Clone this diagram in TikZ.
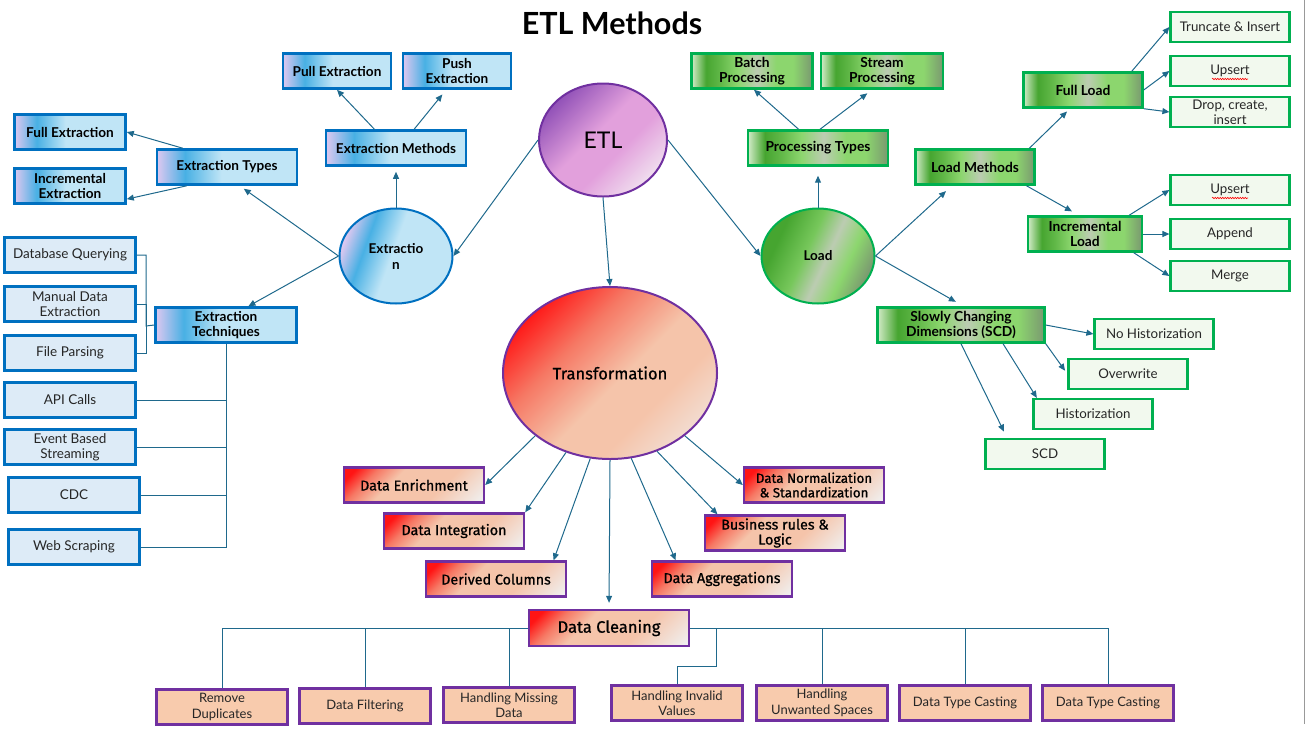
\documentclass[tikz,border=0pt]{standalone}
\usepackage{fontspec}
\setmainfont{Lato}
\newfontfamily\redfont{Fira Sans}[FakeBold=0.8]
\usetikzlibrary{shapes.geometric,arrows.meta,decorations.pathmorphing}

\definecolor{lineC}{RGB}{31,105,140}
\definecolor{extBorder}{RGB}{0,112,192}
\definecolor{extLav}{RGB}{222,200,240}
\definecolor{extBlue}{RGB}{72,176,228}
\definecolor{extLight}{RGB}{192,229,246}
\definecolor{leafBlue}{RGB}{221,235,247}
\definecolor{ldBorder}{RGB}{0,176,80}
\definecolor{gLight}{RGB}{210,235,200}
\definecolor{gDark}{RGB}{70,165,48}
\definecolor{gMid}{RGB}{140,214,110}
\definecolor{gGray}{RGB}{188,204,178}
\definecolor{gEnd}{RGB}{122,152,112}
\definecolor{leafGreen}{RGB}{242,249,238}
\definecolor{trBorder}{RGB}{112,48,160}
\definecolor{trRed}{RGB}{255,20,20}
\definecolor{trSalmon}{RGB}{246,120,100}
\definecolor{trPeach}{RGB}{245,196,170}
\definecolor{trGray}{RGB}{240,240,240}
\definecolor{leafPeach}{RGB}{248,203,173}
\definecolor{etlDark}{RGB}{142,78,182}
\definecolor{etlPink}{RGB}{226,160,220}
\definecolor{etlPale}{RGB}{244,240,244}

\pgfdeclarehorizontalshading{extband}{100bp}{color(0bp)=(extLav); color(25bp)=(extLav); color(35bp)=(extBlue); color(48bp)=(extLight); color(100bp)=(extLight)}
\pgfdeclarehorizontalshading{ldband}{100bp}{color(0bp)=(gLight); color(25bp)=(gLight); color(31bp)=(gDark); color(37bp)=(gDark!60!gMid); color(44bp)=(gMid); color(52bp)=(gGray); color(60bp)=(gMid); color(67bp)=(gMid); color(75bp)=(gEnd); color(100bp)=(gEnd)}
\pgfdeclarehorizontalshading{loadband}{100bp}{color(0bp)=(gDark); color(30bp)=(gDark); color(44bp)=(gMid!70!gDark); color(54bp)=(gGray); color(64bp)=(gMid); color(75bp)=(gEnd); color(100bp)=(gEnd)}
\pgfdeclareverticalshading{redfade}{100bp}{color(0bp)=(trGray); color(16bp)=(trGray); color(38bp)=(trPeach); color(60bp)=(trPeach); color(71bp)=(trSalmon); color(80bp)=(trRed); color(100bp)=(trRed)}
\pgfdeclareverticalshading{redovalfade}{100bp}{color(0bp)=(trGray); color(15bp)=(trGray); color(36bp)=(trPeach); color(47bp)=(trPeach); color(62bp)=(trSalmon); color(76bp)=(trRed); color(100bp)=(trRed)}
\pgfdeclareverticalshading{etlfade}{100bp}{color(0bp)=(etlPale); color(20bp)=(etlPale); color(42bp)=(etlPink); color(54bp)=(etlPink); color(76bp)=(etlDark); color(100bp)=(etlDark)}

\begin{document}
\begin{tikzpicture}[x=1pt, y=-1pt,
    wire/.style={draw=lineC, line width=1pt},
    pointer/.style={wire, -{Triangle[length=7pt,width=6pt]}},
    squig/.style={red, line width=0.6pt, decorate, decoration={snake, amplitude=0.7pt, segment length=2.5pt}},
    headline/.style={font=\bfseries\fontsize{30.5pt}{33pt}\selectfont},
    extbox/.style={draw=extBorder, line width=2.6pt, shading=extband, minimum width=140pt, minimum height=35pt, inner sep=1pt, align=center, font=\bfseries\fontsize{13.6pt}{15.5pt}\selectfont},
    extleaf/.style={draw=extBorder, line width=2.4pt, fill=leafBlue, minimum width=131pt, minimum height=35pt, inner sep=1pt, align=center, text=black!85, font=\fontsize{13.5pt}{15.5pt}\selectfont},
    ldbox/.style={draw=ldBorder, line width=2.4pt, shading=ldband, minimum width=140pt, minimum height=35pt, inner sep=1pt, align=center, font=\bfseries\fontsize{13.8pt}{15.5pt}\selectfont},
    ldleaf/.style={draw=ldBorder, line width=2.2pt, fill=leafGreen, minimum width=119pt, minimum height=30pt, inner sep=1pt, align=center, text=black!85, font=\fontsize{13.3pt}{15pt}\selectfont},
    trbox/.style={draw=trBorder, line width=2.4pt, shading=redfade, shading angle=45, minimum width=140pt, minimum height=35pt, inner sep=1pt, align=center, font=\redfont\fontsize{14.3pt}{15pt}\selectfont},
    trleaf/.style={draw=trBorder, line width=2.2pt, fill=leafPeach, minimum width=131pt, minimum height=35pt, inner sep=1pt, align=center, text=black!85, font=\fontsize{13pt}{15.5pt}\selectfont},
    extoval/.style={ellipse, draw=extBorder, line width=2pt, shading=extband, shading angle=-20, minimum width=113pt, minimum height=95pt, inner sep=0pt, align=center, font=\bfseries\fontsize{13.5pt}{16pt}\selectfont},
    ldoval/.style={ellipse, draw=ldBorder, line width=2pt, shading=loadband, shading angle=-25, minimum width=113pt, minimum height=95pt, inner sep=0pt, font=\bfseries\fontsize{13.5pt}{16pt}\selectfont},
    etloval/.style={ellipse, draw=trBorder, line width=2pt, shading=etlfade, shading angle=45, minimum width=128pt, minimum height=113pt, inner sep=0pt, font=\fontsize{23pt}{26pt}\selectfont},
    troval/.style={ellipse, draw=trBorder, line width=2pt, shading=redovalfade, shading angle=45, minimum width=214pt, minimum height=172pt, inner sep=0pt, font=\redfont\fontsize{16.5pt}{18pt}\selectfont}]
    \useasboundingbox (0,0) rectangle (1305,729);
    \draw [gray!80, line width=1pt] (1304,0) -- (1304,724);

    \node[headline] (ttl) at (612,23) {ETL Methods};
    % centre
    \node[etloval] (etl) at (603,140) {ETL};
    \node[extoval] (ext) at (396,256) {Extractio\\n};
    \node[troval] (trans) at (610,373) {Transformation};
    \node[ldoval] (load) at (818,256) {Load};

    % extraction
    \node[extbox, minimum width=108pt] (pullx) at (337,71) {Pull Extraction};
    \node[extbox, minimum width=108pt] (pushx) at (457,71) {Push\\Extraction};
    \node[extbox, minimum width=111pt] (fullx) at (70,132) {Full Extraction};
    \node[extbox, minimum width=111pt] (incx) at (70,186) {Incremental\\Extraction};
    \node[extbox] (types) at (227,167) {Extraction Types};
    \node[extbox] (meth) at (396,148) {Extraction Methods};
    \node[extbox, minimum width=141pt] (tech) at (226,325) {Extraction\\Techniques};
    \node[extleaf] (dbq) at (70,255) {Database Querying};
    \node[extleaf] (manx) at (70,304) {Manual Data\\Extraction};
    \node[extleaf] (filep) at (70,353) {File Parsing};
    \node[extleaf] (api) at (70,400) {API Calls};
    \node[extleaf] (evt) at (70,447) {Event Based\\Streaming};
    \node[extleaf] (cdc) at (74,495) {CDC};
    \node[extleaf] (web) at (74,547) {Web Scraping};
    \coordinate (brk) at (146,326);

    % load
    \node[ldbox, minimum width=121pt] (batch) at (752,71) {Batch\\Processing};
    \node[ldbox, minimum width=122pt] (stream) at (882,71) {Stream\\Processing};
    \node[ldbox] (proc) at (818,148) {Processing Types};
    \node[ldbox, minimum width=119pt] (lmeth) at (975,167) {Load Methods};
    \node[ldbox, minimum width=119pt] (fload) at (1083,90) {Full Load};
    \node[ldbox, minimum width=114pt] (iload) at (1085,234) {Incremental\\Load};
    \node[ldbox, minimum width=167pt] (scd) at (961,325) {Slowly Changing\\Dimensions (SCD)};
    \node[ldleaf] (trunc) at (1230,27) {Truncate \& Insert};
    \node[ldleaf] (upsf) at (1230,71) {Upsert};
    \node[ldleaf] (drop) at (1230,112) {Drop, create,\\insert};
    \node[ldleaf] (upsi) at (1230,190) {Upsert};
    \node[ldleaf] (app) at (1230,234) {Append};
    \node[ldleaf] (merge) at (1230,276) {Merge};
    \node[ldleaf] (nohist) at (1154,334) {No Historization};
    \node[ldleaf] (over) at (1128,374) {Overwrite};
    \node[ldleaf] (hist) at (1093,414) {Historization};
    \node[ldleaf] (scdl) at (1045,454) {SCD};
    \draw[squig] (upsf.center) ++(-18,8) -- ++(36,0);
    \draw[squig] (upsi.center) ++(-18,8) -- ++(36,0);

    % transformation
    \node[trbox] (enrich) at (414,485) {Data Enrichment};
    \node[trbox] (integ) at (454,531) {Data Integration};
    \node[trbox] (derived) at (496,579) {Derived Columns};
    \node[trbox] (aggr) at (722,579) {Data Aggregations};
    \node[trbox] (busi) at (775,533) {Business rules \&\\Logic};
    \node[trbox, font=\redfont\fontsize{13.3pt}{14.5pt}\selectfont] (norm) at (814,485) {Data Normalization\\\& Standardization};
    \node[trbox, minimum width=160pt, minimum height=36pt, font=\redfont\fontsize{16.5pt}{17pt}\selectfont] (clean) at (609,628) {Data Cleaning};
    \node[trleaf] (dup) at (222,707) {Remove\\Duplicates};
    \node[trleaf] (filt) at (365,706) {Data Filtering};
    \node[trleaf] (miss) at (509,705) {Handling Missing\\Data};
    \node[trleaf] (inv) at (677,703) {Handling Invalid\\Values};
    \node[trleaf] (spc) at (822,703) {Handling\\Unwanted Spaces};
    \node[trleaf] (cast) at (965,703) {Data Type Casting};
    \node[trleaf] (casttwo) at (1108,703) {Data Type Casting};
    \coordinate (invbend) at (716,666);

    % arrows from ETL
    \draw[pointer] (etl.west) -- (ext.east);
    \draw[pointer] (etl.south) -- (trans.north);
    \draw[pointer] (etl.east) -- (load.west);

    % extraction arrows
    \draw[pointer, shorten >=5pt] (ext.north) -- (meth.south);
    \draw[pointer, shorten >=5pt] (ext.west) -- (types.-56);
    \draw[pointer] (ext.west) -- (tech.40);
    \draw[pointer] (types.157) -- (fullx.east);
    \draw[pointer] (types.205) -- (incx.-13);
    \draw[pointer] (meth.139) -- (pullx.south);
    \draw[pointer, shorten >=6pt] (meth.46) -- (pushx.-120);
    \draw[wire] (dbq.east) -| (brk) -- (tech.west);
    \draw[wire] (manx.east) -| (brk);
    \draw[wire] (filep.east) -| (brk);
    \draw[wire] (tech.south) |- (api.east);
    \draw[wire] (tech.south) |- (evt.east);
    \draw[wire] (tech.south) |- (cdc.east);
    \draw[wire] (tech.south) |- (web.east);

    % load arrows
    \draw[pointer, shorten >=9pt] (load.north) -- (proc.south);
    \draw[pointer] (proc.136) -- (batch.-84);
    \draw[pointer, shorten >=6pt] (proc.84) -- (stream.-118);
    \draw[pointer, shorten >=8pt] (load.east) -- (lmeth.-141);
    \draw[pointer, shorten >=9pt] (load.east) -- (scd.82);
    \draw[pointer, shorten >=4pt] (lmeth.19) -- (fload.-125);
    \draw[pointer, shorten >=8pt] (lmeth.-20) -- (iload.108);
    \draw[pointer] (fload.21) -- (trunc.west);
    \draw[pointer] (fload.east) -- (upsf.west);
    \draw[pointer] (fload.south east) -- (drop.west);
    \draw[pointer] (iload.23) -- (upsi.west);
    \draw[pointer] (iload.east) -- (app.west);
    \draw[pointer] (iload.-21) -- (merge.west);
    \draw[pointer] (scd.east) -- (nohist.west);
    \draw[pointer, shorten >=4pt] (scd.south east) -- (over.west);
    \draw[pointer] (scd.-24) -- (hist.164);
    \draw[pointer, shorten >=7pt] (scd.south) -- (scdl.157);

    % transformation arrows
    \draw[pointer] (trans.220) -- (enrich.east);
    \draw[pointer] (trans.241) -- (integ.north east);
    \draw[pointer] (trans.257) -- (derived.18);
    \draw[pointer, shorten >=6pt] (trans.south) -- (clean.north);
    \draw[pointer] (trans.-76) -- (aggr.158);
    \draw[pointer] (trans.-59) -- (busi.162);
    \draw[pointer] (trans.-40) -- (norm.west);
    \draw[wire] (clean.west) -| (dup.north);
    \draw[wire] (clean.west) -| (filt.north);
    \draw[wire] (clean.west) -| (miss.north);
    \draw[wire] (clean.east) -| (invbend) -| (inv.north);
    \draw[wire] (clean.east) -| (spc.north);
    \draw[wire] (clean.east) -| (cast.north);
    \draw[wire] (clean.east) -| (casttwo.north);
\end{tikzpicture}
\end{document}
